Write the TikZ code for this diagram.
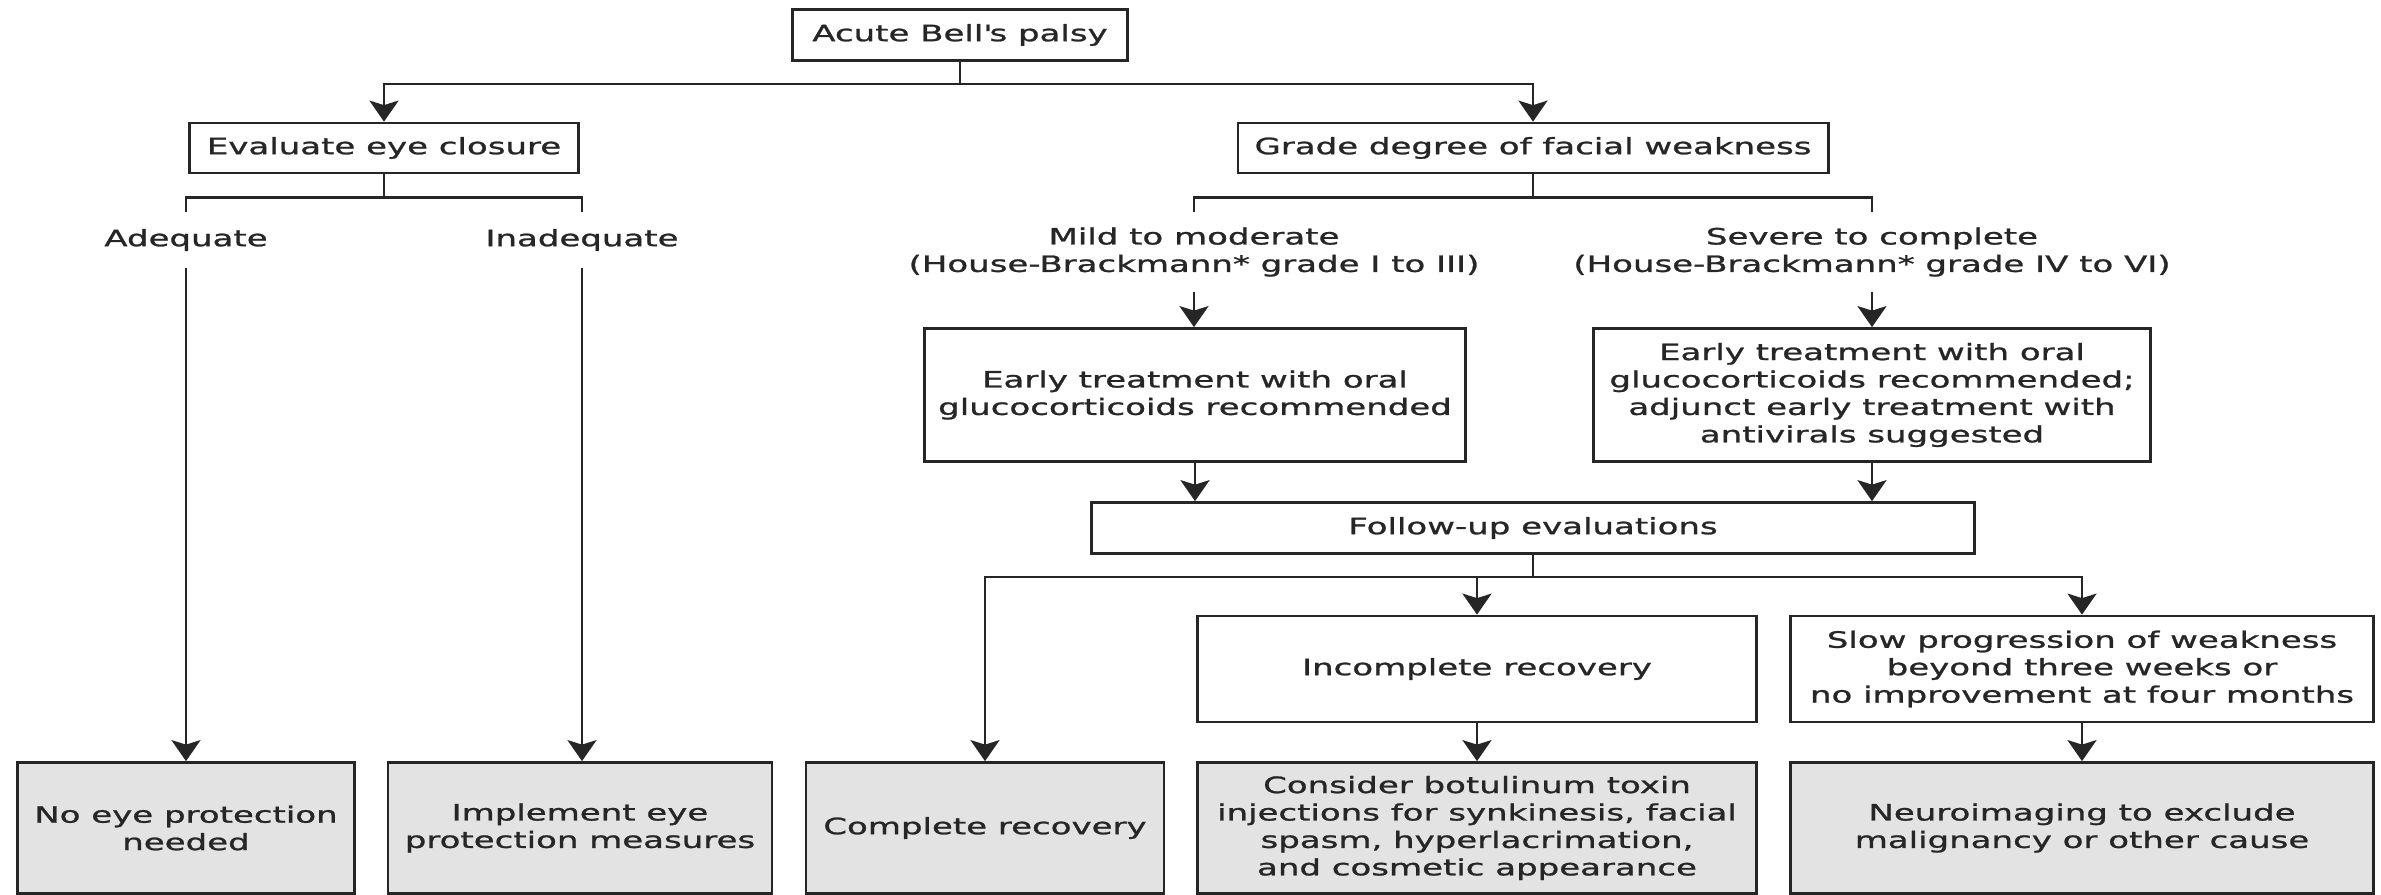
\documentclass[tikz,border=0pt]{standalone}
\usepackage{fontspec}
\setmainfont{DejaVu Sans}[FakeStretch=1.51, FakeBold=1.1]
\usetikzlibrary{arrows.meta}

\begin{document}
\begin{tikzpicture}[x=0.01cm, y=-0.01cm, color=black!85, line width=0.75pt,
    caja/.style={draw, align=center, inner sep=0pt, font=\fontsize{6.4pt}{7.8pt}\selectfont},
    final/.style={caja, fill=black!11, minimum height=1.31cm},
    etiq/.style={align=center, inner sep=0pt, font=\fontsize{6.4pt}{7.8pt}\selectfont},
    flecha/.style={-{Stealth[length=2.1mm, width=2.9mm, inset=0.45mm]}}]
    \useasboundingbox (0,0) rectangle (2381,895);

    % Inicio
    \node[caja, minimum width=3.35cm, minimum height=0.51cm] (acute) at (960,35) {Acute Bell\textquotesingle s palsy};
    \node[caja, minimum width=3.89cm, minimum height=0.50cm] (eval) at (384,148) {Evaluate eye closure};
    \node[caja, minimum width=5.90cm, minimum height=0.50cm] (grade) at (1533,148) {Grade degree of facial weakness};

    % Etiquetas
    \node[etiq, minimum height=0.53cm] (adeq) at (186,240) {Adequate};
    \node[etiq, minimum height=0.53cm] (inadeq) at (582,240) {Inadequate};
    \node[etiq, minimum height=0.78cm] (mildlbl) at (1194,252) {Mild to moderate\\(House-Brackmann* grade I to III)};
    \node[etiq, minimum height=0.78cm] (sevlbl) at (1872,252) {Severe to complete\\(House-Brackmann* grade IV to VI)};

    % Tratamiento
    \node[caja, minimum width=5.41cm, minimum height=1.33cm] (mild) at (1195,395) {Early treatment with oral\\glucocorticoids recommended};
    \node[caja, minimum width=5.57cm, minimum height=1.33cm] (severe) at (1872,395) {Early treatment with oral\\glucocorticoids recommended;\\adjunct early treatment with\\antivirals suggested};
    \node[caja, minimum width=8.82cm, minimum height=0.51cm] (follow) at (1533,528) {Follow-up evaluations};
    \node[caja, minimum width=5.59cm, minimum height=1.06cm] (incompl) at (1477,669) {Incomplete recovery};
    \node[caja, minimum width=5.83cm, minimum height=1.06cm] (slow) at (2082,669) {Slow progression of weakness\\beyond three weeks or\\no improvement at four months};

    % Resultados
    \node[final, minimum width=3.37cm] (noeye) at (186,828) {No eye protection\\needed};
    \node[final, minimum width=3.84cm] (implement) at (580,828) {Implement eye\\protection measures};
    \node[final, minimum width=3.58cm] (complete) at (985,828) {Complete recovery};
    \node[final, minimum width=5.59cm] (consider) at (1477,828) {Consider botulinum toxin\\injections for synkinesis, facial\\spasm, hyperlacrimation,\\and cosmetic appearance};
    \node[final, minimum width=5.83cm] (neuro) at (2082,828) {Neuroimaging to exclude\\malignancy or other cause};

    % Conectores
    \draw[flecha] (acute.south) -- ++(0,22) -| (eval.north);
    \draw[flecha] (acute.south) -- ++(0,22) -| (grade.north);
    \draw (eval.south) -- ++(0,23) -| (adeq.north);
    \draw (eval.south) -- ++(0,23) -| (inadeq.north);
    \draw (grade.south) -- ++(0,23) -| (mildlbl.north);
    \draw (grade.south) -- ++(0,23) -| (sevlbl.north);
    \draw[flecha] (adeq.south) -- (adeq.south |- noeye.north);
    \draw[flecha] (inadeq.south) -- (inadeq.south |- implement.north);
    \draw[flecha] (mildlbl.south) -- (mildlbl.south |- mild.north);
    \draw[flecha] (sevlbl.south) -- (severe.north);
    \draw[flecha] (mild.south) -- (mild.south |- follow.north);
    \draw[flecha] (severe.south) -- (severe.south |- follow.north);
    \draw (follow.south) -- ++(0,22) coordinate (fork);
    \draw[flecha] (fork) -| (complete.north);
    \draw[flecha] (fork) -| (incompl.north);
    \draw[flecha] (fork) -| (slow.north);
    \draw[flecha] (incompl) -- (consider);
    \draw[flecha] (slow) -- (neuro);
\end{tikzpicture}
\end{document}
